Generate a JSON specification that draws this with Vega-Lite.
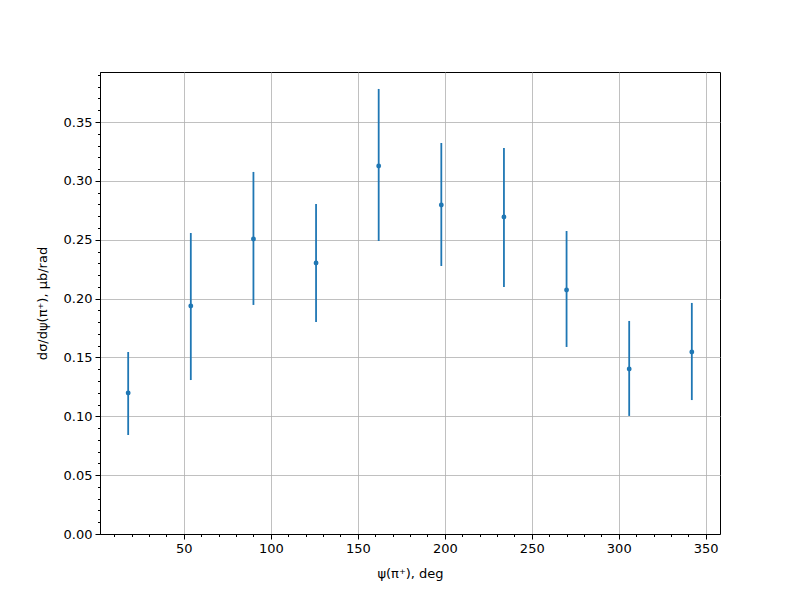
{
  "$schema": "https://vega.github.io/schema/vega-lite/v6.json",
  "width": 620,
  "height": 462,
  "autosize": {"type": "none"},
  "padding": {"left": 100, "top": 72, "right": 80, "bottom": 66},
  "background": "white",
  "config": {
    "view": {"stroke": "#000000", "strokeWidth": 1},
    "font": "DejaVu Sans",
    "axis": {
      "labelFont": "DejaVu Sans",
      "titleFont": "DejaVu Sans",
      "labelFontSize": 13,
      "titleFontSize": 13,
      "titleFontWeight": "normal",
      "labelColor": "#000000",
      "titleColor": "#000000",
      "domainColor": "#000000",
      "tickColor": "#000000",
      "gridColor": "#b0b0b0",
      "gridWidth": 0.8
    }
  },
  "data": {
    "values": [
      {"psi": 18, "val": 0.1198, "lo": 0.0841, "hi": 0.1546},
      {"psi": 54, "val": 0.1937, "lo": 0.1308, "hi": 0.2557},
      {"psi": 90, "val": 0.2506, "lo": 0.1946, "hi": 0.3076},
      {"psi": 126, "val": 0.2302, "lo": 0.1801, "hi": 0.2804},
      {"psi": 162, "val": 0.3127, "lo": 0.2489, "hi": 0.3781},
      {"psi": 198, "val": 0.2795, "lo": 0.2277, "hi": 0.3322},
      {"psi": 234, "val": 0.2693, "lo": 0.2099, "hi": 0.3279},
      {"psi": 270, "val": 0.2073, "lo": 0.1589, "hi": 0.2574},
      {"psi": 306, "val": 0.1402, "lo": 0.1003, "hi": 0.1810},
      {"psi": 342, "val": 0.1546, "lo": 0.1138, "hi": 0.1963}
    ]
  },
  "resolve": {"axis": {"x": "independent", "y": "independent"}},
  "layer": [
    {
      "mark": {"type": "rule", "color": "#1f77b4", "strokeWidth": 1.8},
      "encoding": {
        "x": {
          "field": "psi", "type": "quantitative",
          "scale": {"domain": [1.8, 358.2], "nice": false, "zero": false},
          "axis": {
            "orient": "bottom",
            "title": "ψ(π⁺), deg",
            "values": [50, 100, 150, 200, 250, 300, 350],
            "grid": true,
            "tickSize": 5,
            "labelPadding": 3,
            "titlePadding": 12
          }
        },
        "y": {
          "field": "lo", "type": "quantitative",
          "scale": {"domain": [0, 0.3925], "nice": false},
          "axis": {
            "orient": "left",
            "title": "dσ/dψ(π⁺), μb/rad",
            "values": [0, 0.05, 0.1, 0.15, 0.2, 0.25, 0.3, 0.35],
            "format": ".2f",
            "grid": true,
            "tickSize": 5,
            "labelPadding": 3,
            "titlePadding": 14
          }
        },
        "y2": {"field": "hi"}
      }
    },
    {
      "mark": {"type": "point", "filled": true, "color": "#1f77b4", "size": 24, "opacity": 1},
      "encoding": {
        "x": {
          "field": "psi", "type": "quantitative",
          "scale": {"domain": [1.8, 358.2], "nice": false, "zero": false},
          "axis": {
            "orient": "bottom",
            "title": null,
            "values": [10, 20, 30, 40, 60, 70, 80, 90, 110, 120, 130, 140, 160, 170, 180, 190, 210, 220, 230, 240, 260, 270, 280, 290, 310, 320, 330, 340],
            "labels": false,
            "grid": false,
            "domain": false,
            "tickSize": 2.5
          }
        },
        "y": {
          "field": "val", "type": "quantitative",
          "scale": {"domain": [0, 0.3925], "nice": false},
          "axis": {
            "orient": "left",
            "title": null,
            "values": [0.01, 0.02, 0.03, 0.04, 0.06, 0.07, 0.08, 0.09, 0.11, 0.12, 0.13, 0.14, 0.16, 0.17, 0.18, 0.19, 0.21, 0.22, 0.23, 0.24, 0.26, 0.27, 0.28, 0.29, 0.31, 0.32, 0.33, 0.34, 0.36, 0.37, 0.38, 0.39],
            "labels": false,
            "grid": false,
            "domain": false,
            "tickSize": 2.5
          }
        }
      }
    }
  ]
}
